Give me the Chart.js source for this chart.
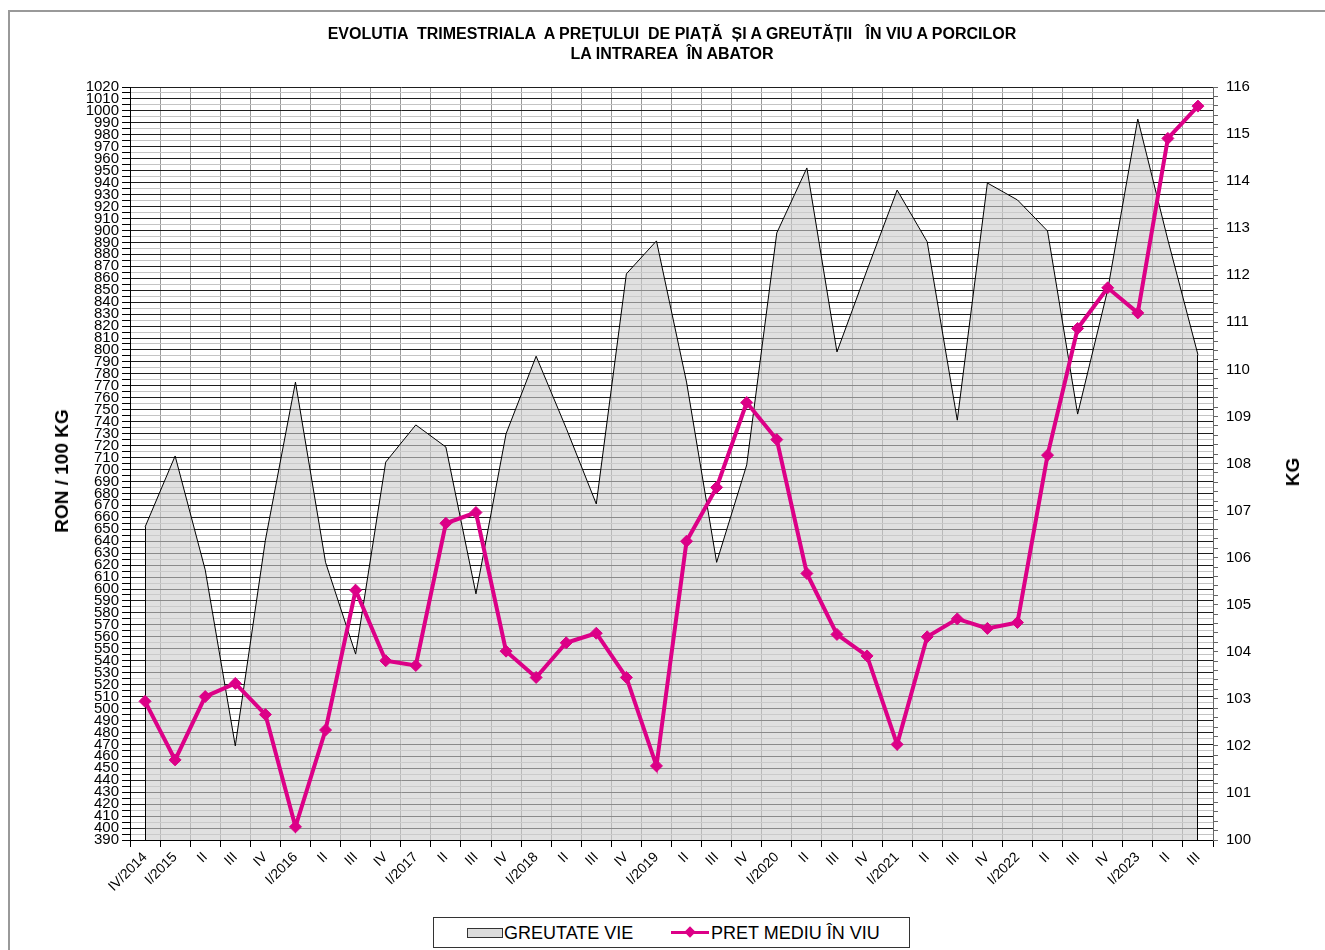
<!DOCTYPE html>
<html><head><meta charset="utf-8">
<script src="https://cdn.jsdelivr.net/npm/chart.js@4/dist/chart.umd.min.js"></script>
<style>
html,body{margin:0;padding:0;background:#fff;}
#wrap{position:relative;width:1325px;height:950px;overflow:hidden;font-family:"Liberation Sans",Arial,sans-serif;color:#000;}
#frame{position:absolute;left:8px;top:10px;width:1400px;height:1000px;border-left:2px solid #999;border-top:2px solid #999;}
#c{position:absolute;left:0;top:0;}
#title{position:absolute;left:0;width:1344px;top:24px;text-align:center;font-weight:bold;font-size:16px;line-height:20px;white-space:pre;font-family:"Liberation Sans Narrow","Liberation Sans",Arial,sans-serif;}
.ytitle{position:absolute;font-weight:bold;font-size:19px;white-space:nowrap;transform:translate(-50%,-50%) rotate(-90deg);}
#legend{position:absolute;left:433px;top:917px;width:475px;height:29px;border:1px solid #333;background:#fff;font-size:18px;}
.lg{position:absolute;top:4px;line-height:22px;white-space:nowrap;}
#lgbox{position:absolute;left:33px;top:10px;width:34px;height:8px;background:#dcdcdc;border:1px solid #333;}
#lgline{position:absolute;left:237px;top:13px;width:38px;height:3px;background:#dc0087;}
#lgdia{position:absolute;left:252px;top:10px;width:8px;height:8px;background:#dc0087;transform:rotate(45deg);}
</style></head>
<body>
<div id="wrap">
<div id="frame"></div>
<canvas id="c" width="1325" height="950"></canvas>
<div id="title">EVOLUTIA  TRIMESTRIALA  A PREȚULUI  DE PIAȚĂ  ȘI A GREUTĂȚII   ÎN VIU A PORCILOR
LA INTRAREA  ÎN ABATOR</div>
<div class="ytitle" style="left:62px;top:471px;">RON / 100 KG</div>
<div class="ytitle" style="left:1293px;top:472px;">KG</div>
<div id="legend">
  <div id="lgbox"></div><div class="lg" style="left:70px;">GREUTATE VIE</div>
  <div id="lgline"></div><div id="lgdia"></div><div class="lg" style="left:277px;">PRET MEDIU ÎN VIU</div>
</div>
</div>
<script>
const categories = ["IV/2014","I/2015","II","III","IV","I/2016","II","III","IV","I/2017","II","III",
  "IV","I/2018","II","III","IV","I/2019","II","III","IV","I/2020","II","III",
  "IV","I/2021","II","III","IV","I/2022","II","III","IV","I/2023","II","III"];
const priceRon = [506,457,510,521,495,401,482,599,540,536,655,664,
  548,526,555,563,526,452,640,685,756,725,613,562,
  544,470,560,575,567,572,712,818,852,831,977,1004];
const weightKg = [106.65,108.16,105.74,102.0,106.37,109.73,105.9,103.95,108.03,108.82,108.35,105.23,
  108.63,110.28,108.75,107.14,112.03,112.73,109.73,105.9,107.97,112.9,114.28,110.37,
  112.11,113.81,112.71,108.92,113.96,113.6,112.94,109.05,111.69,115.32,112.75,110.31];
const leftAxis = {min:390, max:1020, labelStep:10};
const rightAxis = {min:100, max:116, labelStep:1};

const areaEdges = {
  id:'areaEdges',
  afterDatasetDraw(chart, args){
    if(args.index !== 0) return;
    const pts = args.meta.data, ctx = chart.ctx, b = chart.chartArea.bottom;
    const f = pts[0], l = pts[pts.length-1];
    ctx.save(); ctx.strokeStyle = '#000'; ctx.lineWidth = 1; ctx.beginPath();
    ctx.moveTo(Math.round(f.x)+0.5, f.y); ctx.lineTo(Math.round(f.x)+0.5, b);
    ctx.moveTo(Math.round(l.x)-0.5, l.y); ctx.lineTo(Math.round(l.x)-0.5, b);
    ctx.stroke(); ctx.restore();
  }
};

Chart.defaults.font.family = '"Liberation Sans", Arial, sans-serif';
new Chart(document.getElementById('c'), {
  type:'line',
  data:{
    labels: categories,
    datasets:[
      {label:'GREUTATE VIE', data: weightKg, yAxisID:'y1', order:2,
       fill:'start', backgroundColor:'rgba(205,205,205,0.62)', borderColor:'#000', borderWidth:1,
       pointRadius:0, tension:0},
      {label:'PRET MEDIU ÎN VIU', data: priceRon, yAxisID:'y', order:1, fill:false,
       borderColor:'#dc0087', borderWidth:4, pointStyle:'rectRot', pointRadius:6,
       pointBackgroundColor:'#dc0087', pointBorderColor:'#dc0087', pointBorderWidth:1, tension:0}
    ]
  },
  options:{
    responsive:false, devicePixelRatio:1, animation:false,
    layout:{padding:{top:87, left:0, right:0, bottom:0}},
    plugins:{legend:{display:false}, tooltip:{enabled:false}, title:{display:false}},
    scales:{
      x:{offset:true,
         grid:{offset:true, color:'#9a9a9a', tickColor:'#000', tickLength:7},
         border:{color:'#000'},
         ticks:{autoSkip:false, maxRotation:45, minRotation:45, font:{size:14}, color:'#000', padding:2},
         afterFit(s){ s.height = 110; }},
      y:{position:'left', min:leftAxis.min, max:leftAxis.max,
         ticks:{stepSize:5, autoSkip:false, font:{size:15}, color:'#000', padding:3,
           callback:v => (v % leftAxis.labelStep === 0) ? String(v) : ''},
         grid:{color:c => (c.tick && c.tick.value % 10 === 0) ? '#1e1e1e' : '#c4c4c4', tickColor:'#000', tickLength:8},
         border:{color:'#000'},
         afterFit(s){ s.width = 130; }},
      y1:{position:'right', min:rightAxis.min, max:rightAxis.max,
         ticks:{stepSize:0.2, autoSkip:false, font:{size:15}, color:'#000', padding:8,
           callback:v => Math.abs(v - Math.round(v)) < 1e-6 ? String(Math.round(v)) : ''},
         grid:{drawOnChartArea:false, tickColor:'#666', tickLength:5},
         border:{color:'#666'},
         afterFit(s){ s.width = 112; }}
    }
  },
  plugins:[areaEdges]
});
</script>
</body></html>
